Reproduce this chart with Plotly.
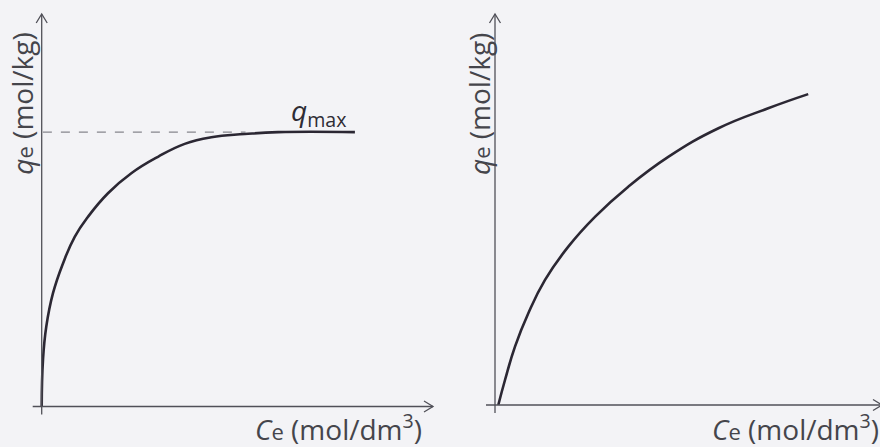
import plotly.graph_objects as go

# Langmuir-type isotherm (left panel): equilibrium concentration vs. adsorbed amount
ce_langmuir = [0.0, 0.033, 0.117, 0.288, 0.543, 0.842, 1.181, 1.691, 2.286, 2.967,
               3.648, 4.327, 5.179, 6.03, 7.99]
qe_langmuir = [0.0, 1.19, 2.04, 2.89, 3.65, 4.33, 4.84, 5.44, 5.95, 6.37,
               6.70, 6.87, 6.95, 7.0, 7.0]
q_max = 7.0

# Freundlich-type isotherm (right panel)
ce_freundlich = [0.084, 0.255, 0.51, 0.85, 1.276, 1.87, 2.55, 3.40, 4.42, 5.70, 6.97, 7.99]
qe_freundlich = [0.0, 0.638, 1.49, 2.34, 3.19, 4.04, 4.80, 5.57, 6.33, 7.06, 7.57, 7.93]

W, H = 880, 447
UNIT = 39.2  # pixels per data unit on both axes

BG = "#f3f3f6"
CURVE = "#2b2733"
AXIS = "#505058"
TEXT = "#45454b"
FONT = "Open Sans"

fig = go.Figure()

curve_style = dict(color=CURVE, width=2.6, shape="spline", smoothing=1.3)
fig.add_trace(go.Scatter(x=ce_langmuir, y=qe_langmuir, mode="lines", line=curve_style,
                         xaxis="x", yaxis="y", hoverinfo="skip", showlegend=False))
fig.add_trace(go.Scatter(x=ce_freundlich, y=qe_freundlich, mode="lines", line=curve_style,
                         xaxis="x2", yaxis="y2", hoverinfo="skip", showlegend=False))

# Panel origins in pixels (from the top-left corner of the page)
left_origin = (41.7, 406.5)
right_origin = (495.0, 405.0)


def axis_ranges(origin, x0_px, x1_px):
    ox, oy = origin
    xr = [(x0_px - ox) / UNIT, (x1_px - ox) / UNIT]
    yr = [-(H - oy) / UNIT, oy / UNIT]
    return xr, yr


lx, ly = axis_ranges(left_origin, 0, 440)
rx, ry = axis_ranges(right_origin, 440, 880)

hidden = dict(visible=False, showgrid=False, zeroline=False, fixedrange=True)
fig.update_layout(
    width=W, height=H,
    margin=dict(l=0, r=0, t=0, b=0),
    paper_bgcolor=BG, plot_bgcolor=BG,
    xaxis=dict(domain=[0, 0.5], range=lx, **hidden),
    yaxis=dict(domain=[0, 1], range=ly, **hidden),
    xaxis2=dict(domain=[0.5, 1], range=rx, anchor="y2", **hidden),
    yaxis2=dict(domain=[0, 1], range=ry, anchor="x2", **hidden),
)

shapes = []
head_len = 9 / UNIT
head_w = 5.5 / UNIT


def draw_axes(xref, yref, origin, x_end_px, y_top_px):
    ox, oy = origin
    x_start = -9 / UNIT
    y_start = -8 / UNIT
    x_end = (x_end_px - ox) / UNIT
    y_end = (oy - y_top_px) / UNIT
    line = dict(color=AXIS, width=1.3)
    # horizontal axis with open arrowhead
    shapes.append(dict(type="line", xref=xref, yref=yref, x0=x_start, y0=0,
                       x1=x_end, y1=0, line=line))
    shapes.append(dict(type="path", xref=xref, yref=yref,
                       path=f"M {x_end - head_len} {head_w} L {x_end} 0 L {x_end - head_len} {-head_w}",
                       line=line))
    # vertical axis with open arrowhead
    shapes.append(dict(type="line", xref=xref, yref=yref, x0=0, y0=y_start,
                       x1=0, y1=y_end, line=line))
    shapes.append(dict(type="path", xref=xref, yref=yref,
                       path=f"M {-head_w} {y_end - head_len} L 0 {y_end} L {head_w} {y_end - head_len}",
                       line=line))


draw_axes("x", "y", left_origin, 433, 14)
draw_axes("x2", "y2", right_origin, 882, 14)

# q_max reference line up to where the curve levels off
shapes.append(dict(type="line", xref="x", yref="y", x0=0.03, y0=q_max, x1=5.2, y1=q_max,
                   line=dict(color="#6a6a72", width=1.0, dash="dash")))

fig.update_layout(shapes=shapes)

ylabel = "<i>q</i><span style='font-size:22px'>e</span> (mol/kg)"
xlabel = "<i>C</i><span style='font-size:22px'>e</span> (mol/dm<sup>3</sup>)"

ann = []
# vertical-axis labels, rotated alongside each axis
for xref, yref, org, off in (("x", "y", left_origin, 20), ("x2", "y2", right_origin, 16)):
    ox, oy = org
    ann.append(dict(xref=xref, yref=yref, x=-off / UNIT, y=(oy - 104) / UNIT,
                    text=ylabel, textangle=-90, showarrow=False,
                    font=dict(family=FONT, size=28, color=TEXT)))
# horizontal-axis labels under the right end of each axis
ann.append(dict(xref="x", yref="y", x=(338 - left_origin[0]) / UNIT,
                y=-(427 - left_origin[1]) / UNIT, text=xlabel, showarrow=False,
                font=dict(family=FONT, size=28, color=TEXT)))
ann.append(dict(xref="x2", yref="y2", x=(795 - right_origin[0]) / UNIT,
                y=-(427 - right_origin[1]) / UNIT, text=xlabel, showarrow=False,
                font=dict(family=FONT, size=28, color=TEXT)))
# q_max label above the plateau
ann.append(dict(xref="x", yref="y", x=(318 - left_origin[0]) / UNIT, y=q_max + 20 / UNIT,
                text="<i>q</i><sub>max</sub>", showarrow=False,
                font=dict(family=FONT, size=28, color="#2e2c34")))

fig.update_layout(annotations=ann)

fig.write_html("out.html", include_plotlyjs=True, config={"displayModeBar": False, "staticPlot": True})
